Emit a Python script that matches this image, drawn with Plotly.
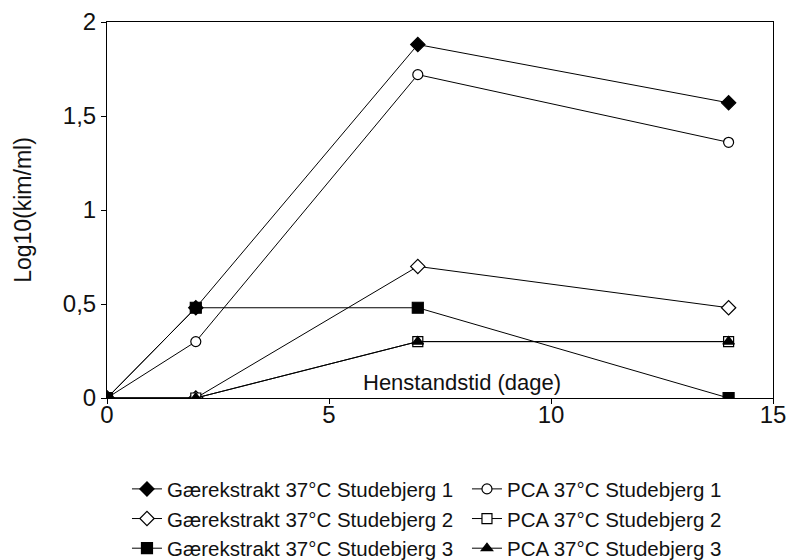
import plotly.graph_objects as go

# Storage time in days
days = [0, 2, 7, 14]

# Log10(kim/ml) per medium / sample
gaer_1 = [0, 0.48, 1.88, 1.57]
pca_1 = [0, 0.30, 1.72, 1.36]
gaer_2 = [0, 0, 0.70, 0.48]
pca_2 = [0, 0, 0.30, 0.30]
gaer_3 = [0, 0.48, 0.48, 0]
pca_3 = [0, 0, 0.30, 0.30]

names = [
    "Gærekstrakt 37°C Studebjerg 1",
    "PCA 37°C Studebjerg 1",
    "Gærekstrakt 37°C Studebjerg 2",
    "PCA 37°C Studebjerg 2",
    "Gærekstrakt 37°C Studebjerg 3",
    "PCA 37°C Studebjerg 3",
]
series = [gaer_1, pca_1, gaer_2, pca_2, gaer_3, pca_3]
symbols = ["diamond", "circle", "diamond", "square", "square", "triangle-up"]
fills = ["black", "white", "white", "white", "black", "black"]
sizes = [11, 10, 11, 10, 11, 10]
# Gærekstrakt series in the left legend column, PCA series in the right one
legend_ids = ["legend", "legend2", "legend", "legend2", "legend", "legend2"]

FONT = "Liberation Sans"
TXT = "#111"

fig = go.Figure()
for name, ys, sym, fill, sz, lg in zip(names, series, symbols, fills, sizes, legend_ids):
    fig.add_trace(go.Scatter(
        x=days, y=ys, name=name, mode="lines+markers", legend=lg,
        line=dict(color="black", width=1),
        marker=dict(symbol=sym, size=sz, color=fill,
                    line=dict(color="black", width=1.2)),
    ))

fig.add_annotation(
    x=8.0, y=0.08, xref="x", yref="y", text="Henstandstid (dage)",
    showarrow=False, font=dict(family=FONT, size=22, color=TXT),
)

axis_common = dict(
    showline=True, linecolor="black", linewidth=1, mirror=True,
    ticks="outside", ticklen=5, tickcolor="black", showgrid=False,
    zeroline=False, automargin=False,
    tickfont=dict(family=FONT, size=24, color=TXT),
)

legend_common = dict(
    orientation="v", xanchor="left", y=-0.189, yanchor="top",
    tracegroupgap=0, bgcolor="rgba(0,0,0,0)",
    font=dict(family=FONT, size=20.5, color=TXT),
)

fig.update_layout(
    width=787, height=560,
    margin=dict(l=107, r=14, t=22, b=162, autoexpand=False),
    plot_bgcolor="white", paper_bgcolor="white",
    separators=",.",
    font=dict(family=FONT, color=TXT),
    xaxis=dict(range=[0, 15], dtick=5, ticklabelstandoff=-10, **axis_common),
    yaxis=dict(range=[0, 2], dtick=0.5,
               title=dict(text="Log10(kim/ml)", standoff=24,
                          font=dict(family=FONT, size=23, color=TXT)),
               **axis_common),
    legend=dict(x=0.030, **legend_common),
    legend2=dict(x=0.5405, **legend_common),
)

fig.write_html("out.html")
